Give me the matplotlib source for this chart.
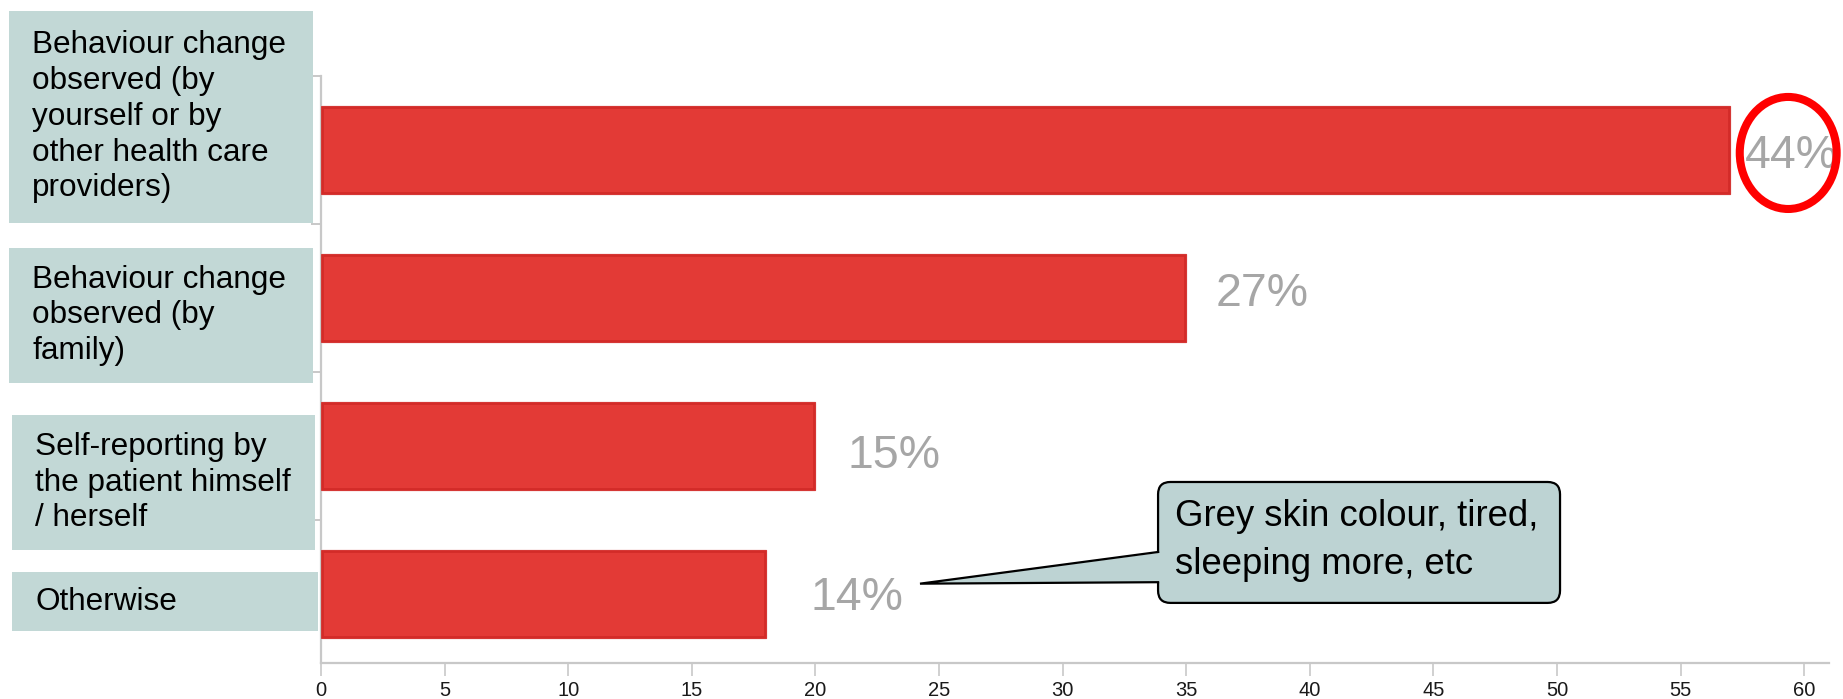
import matplotlib
matplotlib.use("Agg")
import matplotlib.pyplot as plt
from matplotlib.patches import Rectangle, FancyBboxPatch, Ellipse, Polygon
from matplotlib.transforms import blended_transform_factory

# ---- data -------------------------------------------------------------
categories = [
    "Behaviour change\nobserved (by\nyourself or by\nother health care\nproviders)",
    "Behaviour change\nobserved (by\nfamily)",
    "Self-reporting by\nthe patient himself\n/ herself",
    "Otherwise",
]
counts = [57, 35, 20, 18]
total_respondents = 130
x_ticks = list(range(0, 61, 5))
callout_text = "Grey skin colour, tired,\nsleeping more, etc"

pct_labels = [f"{round(100 * c / total_respondents)}%" for c in counts]

# ---- layout / style ---------------------------------------------------
plt.rcParams["font.family"] = ["Liberation Sans", "DejaVu Sans"]
BAR_RED = "#e33a36"
BAR_EDGE = "#c21f1c"
BOX_FILL = "#c2d8d6"
CALLOUT_FILL = "#bdd3d3"
PCT_GREY = "#a6a6a6"
SPINE_GREY = "#c8c8c8"

fig = plt.figure(figsize=(18.43, 6.99), dpi=100)
ax = fig.add_axes([321 / 1843, 36 / 699, 1508 / 1843, 587 / 699])

ypos = list(range(len(categories)))
# soft darker rim under the main bar fill
ax.barh(ypos, counts, height=0.6, color=BAR_EDGE, edgecolor="#e8a0a0",
        linewidth=1.0, zorder=2)
ax.barh(ypos, [c - 0.12 for c in counts], left=0.06, height=0.575,
        color=BAR_RED, edgecolor="#d32b28", linewidth=2.0, zorder=3)

ax.set_xlim(0, 61)
ax.set_ylim(3.466, -0.5)

# axes styling
for side in ("top", "right"):
    ax.spines[side].set_visible(False)
for side in ("left", "bottom"):
    ax.spines[side].set_color(SPINE_GREY)
    ax.spines[side].set_linewidth(1.6)

ax.set_xticks(x_ticks)
ax.set_xticklabels([str(t) for t in x_ticks])
ax.tick_params(axis="x", length=9, width=1.2, color=SPINE_GREY,
               labelsize=14.5, labelcolor="#1a1a1a", pad=4)
ax.set_yticks([i - 0.5 for i in ypos[1:]] + [-0.5])
ax.set_yticklabels([])
ax.tick_params(axis="y", length=7, width=1.4, color=SPINE_GREY)

# percentage labels next to the bars
pct_dx = [0.6, 1.2, 1.3, 1.8]
pct_dy = [0.04, -0.03, 0.07, 0.03]
for i, (c, lab) in enumerate(zip(counts, pct_labels)):
    ax.text(c + pct_dx[i], i + pct_dy[i], lab, ha="left", va="center",
            fontsize=33.5, color=PCT_GREY, clip_on=False, zorder=4)

# highlight ring around the largest share
ax.add_patch(Ellipse((59.35, 0.02), 3.92, 0.757, fill=False, edgecolor="#ff0000",
                     linewidth=5.8, clip_on=False, zorder=5))

# category label boxes to the left of the axis
lab_tr = blended_transform_factory(fig.transFigure, ax.transData)
box_top = [-0.939, 0.662, 1.791, 2.851]
box_bottom = [0.493, 1.574, 2.703, 3.25]
box_left = [0.0049, 0.0049, 0.0065, 0.0065]
box_width = [0.1650, 0.1650, 0.1645, 0.1660]
for i, cat in enumerate(categories):
    ax.add_patch(Rectangle((box_left[i], box_top[i]), box_width[i],
                           box_bottom[i] - box_top[i], transform=lab_tr,
                           facecolor=BOX_FILL, edgecolor="none",
                           clip_on=False, zorder=6))
    ax.text(box_left[i] + 0.0125, (box_top[i] + box_bottom[i]) / 2, cat,
            transform=lab_tr, ha="left", va="center", fontsize=22.7,
            linespacing=1.25, color="black", clip_on=False, zorder=7)

# speech-bubble callout pointing at the last bar's label
cb_x0, cb_x1 = 33.86, 50.12
cb_y0, cb_y1 = 2.243, 3.06
tip = (24.23, 2.93)
base_top, base_bot = 2.716, 2.92
ax.add_patch(FancyBboxPatch((cb_x0, cb_y0), cb_x1 - cb_x0, cb_y1 - cb_y0,
                            boxstyle="round,pad=0,rounding_size=0.5",
                            mutation_aspect=24.72 / 148,
                            facecolor=CALLOUT_FILL, edgecolor="black",
                            linewidth=1.6, clip_on=False, zorder=6))
ax.add_patch(Polygon([(cb_x0 + 0.3, base_top), tip, (cb_x0 + 0.3, base_bot)],
                     closed=True, facecolor=CALLOUT_FILL, edgecolor="none",
                     clip_on=False, zorder=7))
ax.plot([cb_x0, tip[0], cb_x0], [base_top, tip[1], base_bot], color="black",
        linewidth=1.6, clip_on=False, zorder=8, solid_joinstyle="miter")
ax.text(cb_x0 + 0.7, (cb_y0 + cb_y1) / 2 - 0.01, callout_text, ha="left",
        va="center", fontsize=26.3, linespacing=1.48, color="black", zorder=9)

fig.savefig("out.png", dpi=100)
